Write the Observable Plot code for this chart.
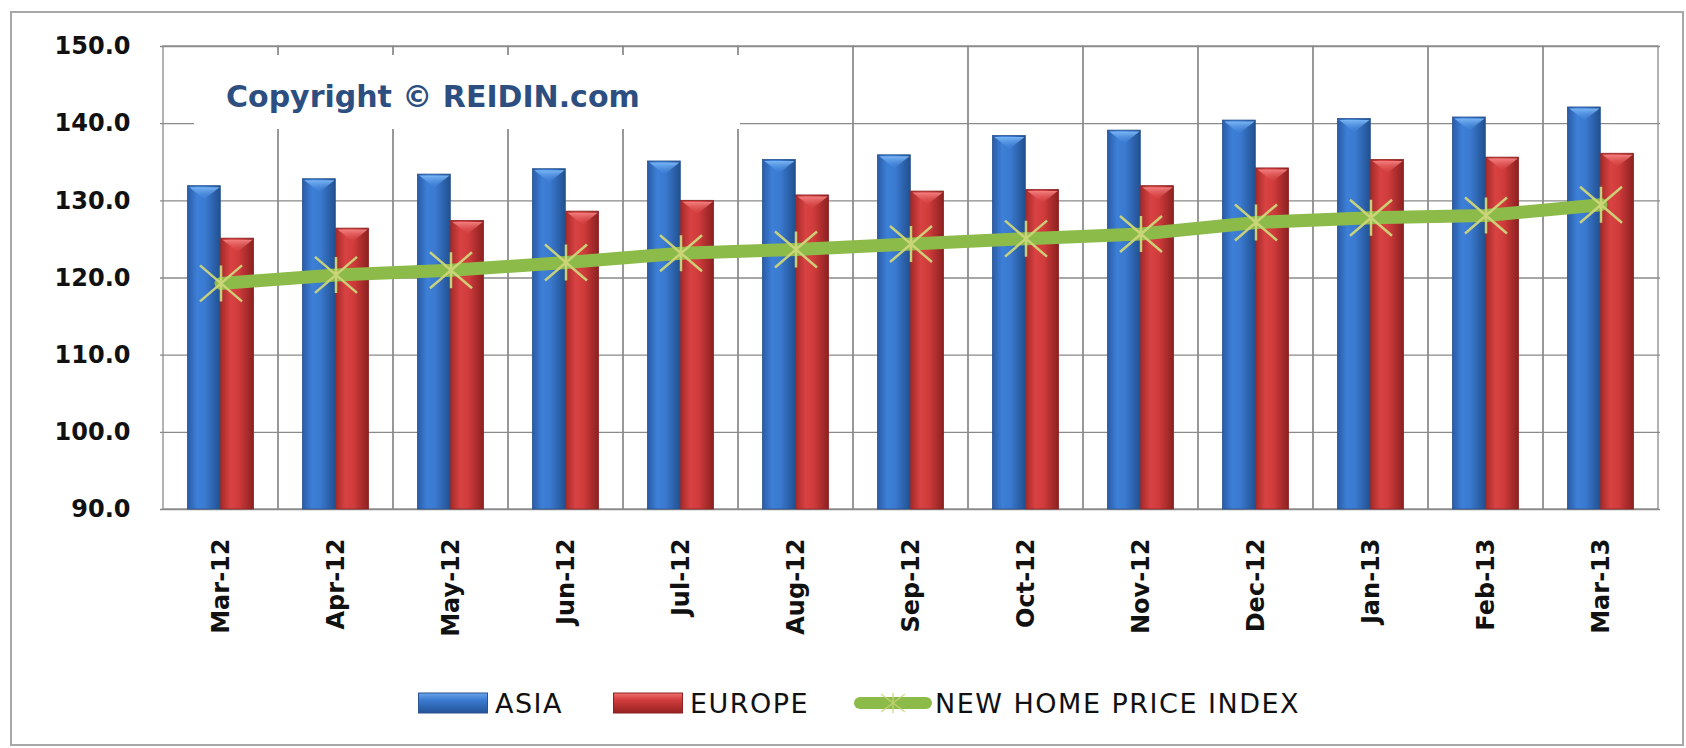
<!DOCTYPE html>
<html>
<head>
<meta charset="utf-8">
<script src="https://cdn.jsdelivr.net/npm/d3@7"></script>
<script src="https://cdn.jsdelivr.net/npm/@observablehq/plot@0.6"></script>
<style>
  html, body { margin: 0; padding: 0; background: #ffffff; }
  #wrap { position: relative; width: 1686px; height: 748px; overflow: hidden; background: #fff; }
  #outer { position: absolute; left: 10px; top: 11px; width: 1674px; height: 735px; border: 2px solid #a8a8a8; box-sizing: border-box; }
  #chart { position: absolute; left: 0; top: 0; }
  #copy { position: absolute; left: 194px; top: 55px; width: 546px; height: 74px; background: #fff; }
  #copy span { position: absolute; left: 32px; top: 27px; font: bold 30px "DejaVu Sans", sans-serif; line-height: 30px; color: #2d4e80; white-space: nowrap; }
  .sw { position: absolute; top: 692px; }
  .lt { position: absolute; top: 690px; font: 27px "DejaVu Sans", sans-serif; line-height: 27px; letter-spacing: 1.5px; color: #111; white-space: nowrap; }
</style>
</head>
<body>
<div id="wrap">
  <div id="outer"></div>
  <div id="chart"></div>
  <div id="copy"><span>Copyright © REIDIN.com</span></div>
  <svg class="sw" style="left:418px" width="70" height="22">
    <defs><linearGradient id="lgB" x1="0" x2="0" y1="0" y2="1"><stop offset="0" stop-color="#6aa6ea"/><stop offset="0.35" stop-color="#3b7bd2"/><stop offset="1" stop-color="#245396"/></linearGradient></defs>
    <rect x="0.5" y="1" width="69" height="20" fill="url(#lgB)" stroke="#2a5394"/>
  </svg>
  <div class="lt" style="left:495px">ASIA</div>
  <svg class="sw" style="left:613px" width="70" height="22">
    <defs><linearGradient id="lgR" x1="0" x2="0" y1="0" y2="1"><stop offset="0" stop-color="#f07070"/><stop offset="0.35" stop-color="#d23c3c"/><stop offset="1" stop-color="#962222"/></linearGradient></defs>
    <rect x="0.5" y="1" width="69" height="20" fill="url(#lgR)" stroke="#8e2020"/>
  </svg>
  <div class="lt" style="left:690px">EUROPE</div>
  <svg class="sw" style="left:853px" width="80" height="22">
    <line x1="7" x2="73" y1="11" y2="11" stroke="#8dbb4a" stroke-width="12" stroke-linecap="round"/>
    <g stroke="#cdd67a" stroke-width="1.5" opacity="0.8"><line x1="40" x2="40" y1="1" y2="21"/><line x1="28" x2="52" y1="2" y2="20"/><line x1="28" x2="52" y1="20" y2="2"/></g>
  </svg>
  <div class="lt" style="left:935px">NEW HOME PRICE INDEX</div>
</div>
<script>
// ---- data ----
const months = ["Mar-12","Apr-12","May-12","Jun-12","Jul-12","Aug-12","Sep-12","Oct-12","Nov-12","Dec-12","Jan-13","Feb-13","Mar-13"];
const asia   = [131.9,132.8,133.4,134.1,135.1,135.3,135.9,138.4,139.1,140.4,140.6,140.8,142.1];
const europe = [125.1,126.4,127.4,128.6,130.0,130.7,131.2,131.4,131.9,134.2,135.3,135.6,136.1];
const homeIndex = [119.3,120.4,121.0,122.0,123.2,123.7,124.4,125.1,125.7,127.2,127.8,128.1,129.5];
const yTicks = [90,100,110,120,130,140,150];

const rows = months.map((m, i) => ({month: m, asia: asia[i], europe: europe[i], idx: homeIndex[i]}));
const Y_MIN = yTicks[0], Y_MAX = yTicks[yTicks.length - 1];

const W = 1686, H = 660, mL = 160, mR = 26, mT = 46, mB = 151;
const bw = (W - mL - mR) / months.length;
const outer = bw * 0.212, barW = bw * 0.288;
const grid = "#8a8a8a";

// star marker: an X plus a vertical stroke
const starX = {draw(ctx) {
  const hx = 21, hy = 18;
  ctx.moveTo(-hx, -hy); ctx.lineTo(hx, hy);
  ctx.moveTo(-hx, hy); ctx.lineTo(hx, -hy);
  ctx.moveTo(0, -hy); ctx.lineTo(0, hy);
}};
// bevel highlight at the top of each bar
const bevel = {draw(ctx) {
  const w = barW / 2 - 1.5, h = 12;
  ctx.moveTo(-w, 0); ctx.lineTo(w, 0); ctx.lineTo(0, h); ctx.closePath();
}};
const dxBlue = outer + barW / 2 - bw / 2;
const dxRed = outer + barW * 1.5 - bw / 2;

const svg = Plot.plot({
  width: W, height: H,
  marginLeft: mL, marginRight: mR, marginTop: mT, marginBottom: mB,
  style: {fontFamily: "DejaVu Sans, sans-serif", fontSize: "24px", fontWeight: "bold", color: "#111", background: "transparent", overflow: "visible"},
  x: {type: "band", domain: months, padding: 0, tickRotate: -90, tickSize: 0, tickPadding: 29, label: null},
  y: {domain: [Y_MIN, Y_MAX], ticks: yTicks, tickFormat: d => d.toFixed(1), tickSize: 0, tickPadding: 30, label: null},
  marks: [
    Plot.ruleY(yTicks, {stroke: grid, strokeWidth: 1.3}),
    Plot.barY(months, {x: d => d, y1: Y_MIN, y2: Y_MAX, fill: "none", stroke: grid, strokeWidth: 1.3}),
    Plot.barY(rows, {x: "month", y1: Y_MIN, y2: "asia", insetLeft: outer, insetRight: bw - outer - barW, fill: "url(#gBlue)", stroke: "#27528f", strokeWidth: 0.8}),
    Plot.barY(rows, {x: "month", y1: Y_MIN, y2: "europe", insetLeft: outer + barW, insetRight: outer, fill: "url(#gRed)", stroke: "#8c2222", strokeWidth: 0.8}),
    Plot.dot(rows, {x: "month", y: "asia", dx: dxBlue, dy: 1, symbol: bevel, fill: "url(#gBlueTop)", stroke: "none"}),
    Plot.dot(rows, {x: "month", y: "europe", dx: dxRed, dy: 1, symbol: bevel, fill: "url(#gRedTop)", stroke: "none"}),
    Plot.line(rows, {x: "month", y: "idx", stroke: "#8dbb4a", strokeWidth: 13}),
    Plot.dot(rows, {x: "month", y: "idx", symbol: starX, fill: "none", stroke: "#cdd67a", strokeWidth: 2.5, strokeOpacity: 0.95})
  ]
});

const defs = d3.select(svg).insert("defs", ":first-child");
function grad(id, stops, vertical) {
  const g = defs.append("linearGradient").attr("id", id)
    .attr("x1", 0).attr("x2", vertical ? 0 : 1).attr("y1", 0).attr("y2", vertical ? 1 : 0);
  stops.forEach(([o, c, a]) => g.append("stop").attr("offset", o).attr("stop-color", c).attr("stop-opacity", a ?? 1));
}
grad("gBlue", [[0, "#2a5ba6"], [0.3, "#3d80d8"], [0.55, "#3a79cf"], [1, "#21508f"]]);
grad("gRed", [[0, "#a52a2a"], [0.3, "#d94242"], [0.55, "#cf3b3b"], [1, "#8c2020"]]);
grad("gBlueTop", [[0, "#7ab6f5"], [1, "#3d80d8", 0.3]], true);
grad("gRedTop", [[0, "#f38080"], [1, "#d94242", 0.3]], true);

document.getElementById("chart").appendChild(svg);
</script>
</body>
</html>
